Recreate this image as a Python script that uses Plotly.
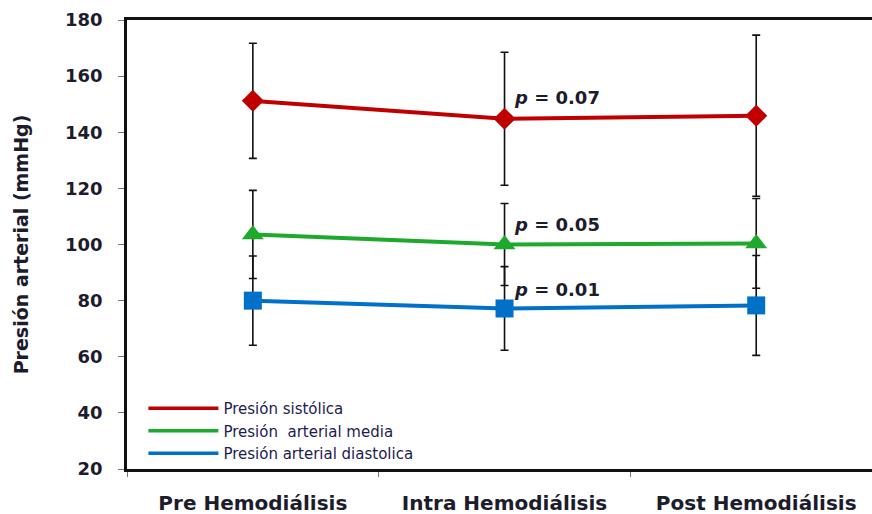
import plotly.graph_objects as go

categories = ["Pre Hemodiálisis", "Intra Hemodiálisis", "Post Hemodiálisis"]
sistolica = [151.2, 144.8, 145.9]
sistolica_err = [20.5, 23.7, 28.7]
media = [103.6, 100.0, 100.4]
media_err = [15.7, 14.6, 16.0]
diastolica = [80.0, 77.2, 78.3]
diastolica_err = [15.9, 14.9, 17.8]
series_names = ["Presión sistólica", "Presión  arterial media", "Presión arterial diastolica"]
p_labels = ["0.07", "0.05", "0.01"]
p_y = [152.3, 107.1, 84.0]

colors = ["#C00000", "#1DAA2C", "#0070C8"]
symbols = ["diamond", "triangle-up", "square"]
sizes = [17, 19, 18]
values = [sistolica, media, diastolica]
errors = [sistolica_err, media_err, diastolica_err]

BOLD_FONT = "DejaVu Sans, Verdana, sans-serif"
TXT = "#1c1c2c"

fig = go.Figure()
for vals, errs, col, sym, sz in zip(values, errors, colors, symbols, sizes):
    fig.add_trace(go.Scatter(
        x=categories, y=vals, mode="lines+markers",
        line=dict(color=col, width=4),
        marker=dict(symbol=sym, size=sz, color=col),
        error_y=dict(type="data", array=errs, visible=True, color="#111111",
                     thickness=1.6, width=4),
        showlegend=False, hoverinfo="skip"))

for name, col in zip(series_names, colors):
    fig.add_trace(go.Scatter(x=[None], y=[None], mode="lines", name=name,
                             line=dict(color=col, width=3.5), showlegend=True))

for lab, yv in zip(p_labels, p_y):
    fig.add_annotation(x=categories[1], y=yv, text="<b><i>p</i> = " + lab + "</b>",
                       showarrow=False, xanchor="left", xshift=7,
                       font=dict(family=BOLD_FONT, size=18, color=TXT))

fig.update_layout(
    width=872, height=514,
    margin=dict(l=127, r=0, t=20, b=45),
    paper_bgcolor="white", plot_bgcolor="white",
    font=dict(family=BOLD_FONT, color=TXT),
    showlegend=True,
    legend=dict(x=0.022, y=-0.002, xanchor="left", yanchor="bottom",
                bgcolor="rgba(0,0,0,0)", itemwidth=70, tracegroupgap=0,
                font=dict(family="DejaVu Sans", size=15, color="#1c1c50")),
    xaxis=dict(type="category", range=[-0.5, 2.46], showgrid=False, zeroline=False,
               automargin=False,
               showline=True, linecolor="#111111", linewidth=2.5, mirror=True,
               ticks="outside", tickson="boundaries", ticklen=5, tickcolor="#777777",
               ticklabelstandoff=14,
               tickfont=dict(family=BOLD_FONT, size=20, color=TXT, weight="bold")),
    yaxis=dict(range=[20, 180], dtick=20, showgrid=False, zeroline=False,
               automargin=False,
               showline=True, linecolor="#111111", linewidth=2.5, mirror=False,
               ticks="outside", ticklen=6, tickcolor="#777777",
               ticklabelstandoff=12,
               tickfont=dict(family=BOLD_FONT, size=18, color=TXT, weight="bold"),
               title=dict(text="<b>Presión arterial (mmHg)</b>", standoff=32,
                          font=dict(family=BOLD_FONT, size=19, color=TXT))),
)

fig.write_html("out.html")
